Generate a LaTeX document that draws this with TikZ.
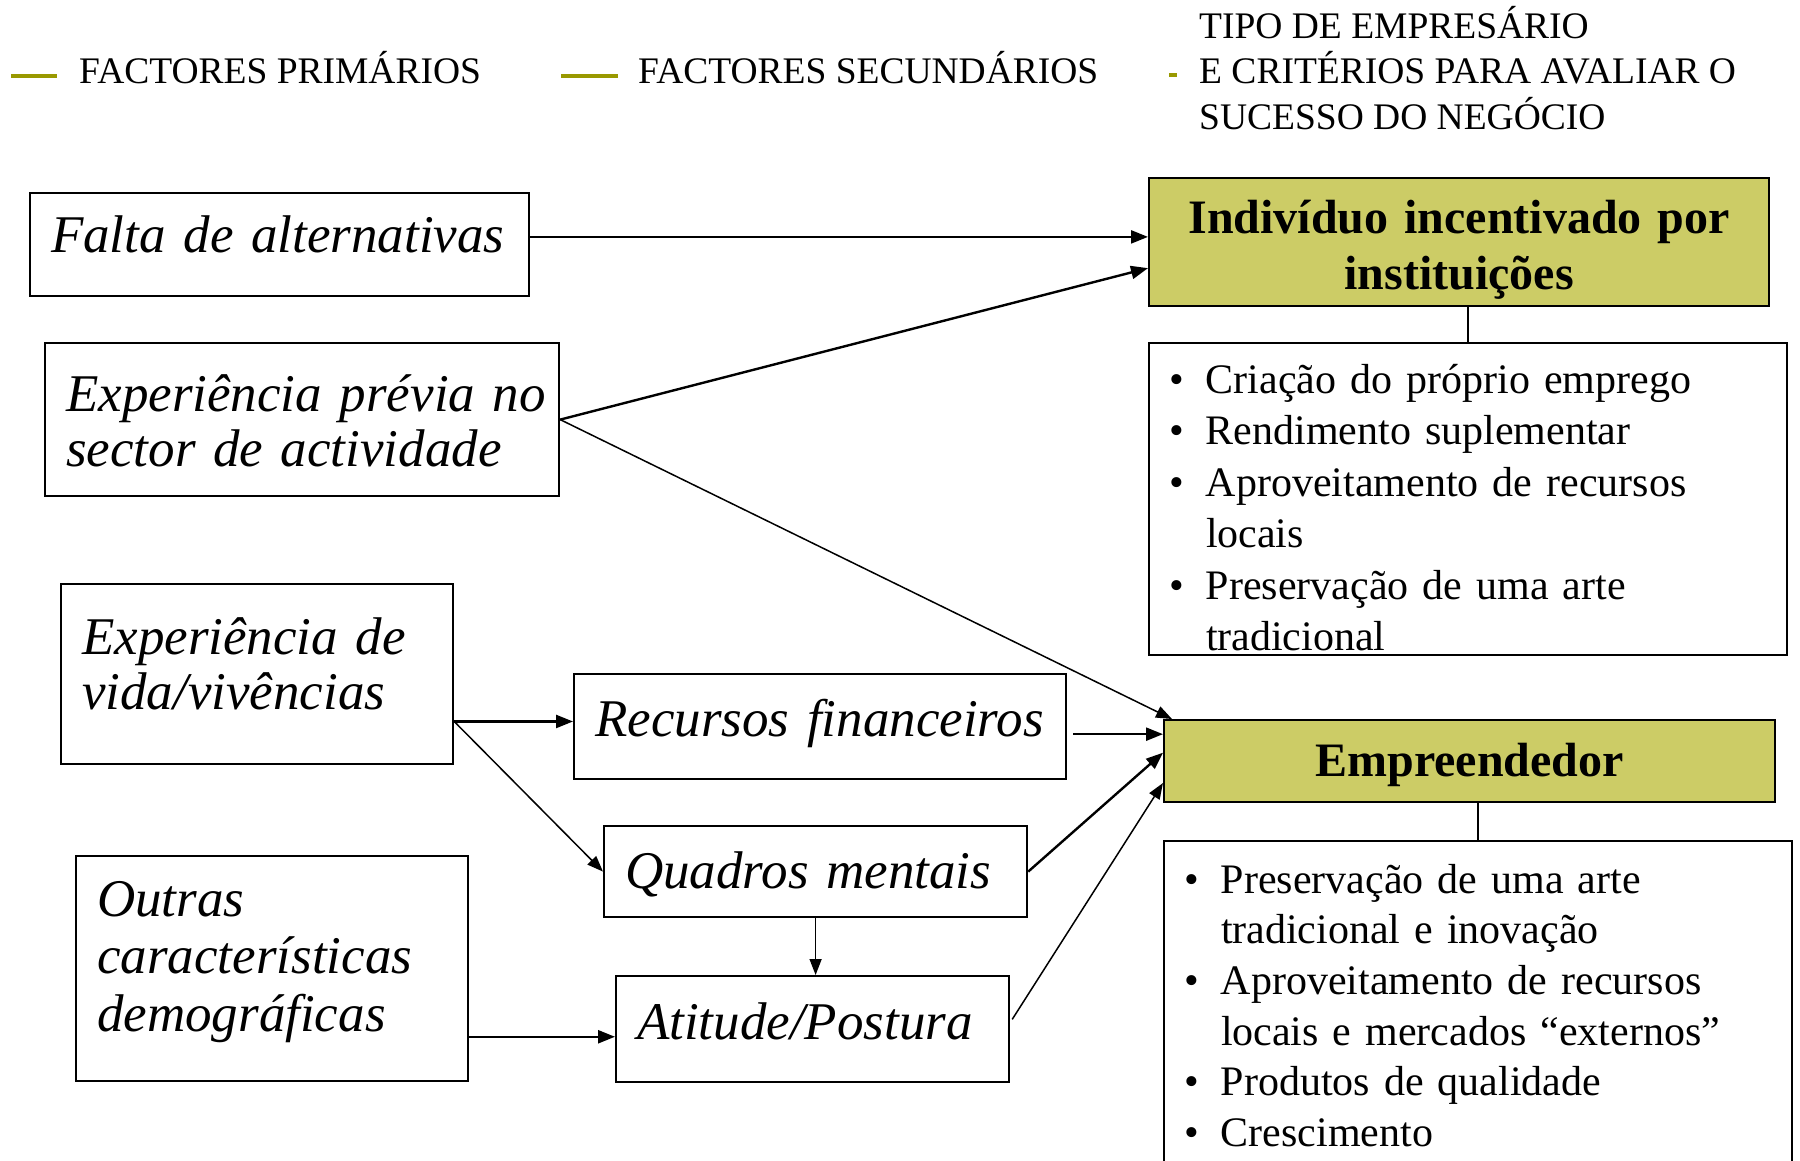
\documentclass[tikz,border=0pt]{standalone}
\usepackage{fontspec}
\setmainfont{Liberation Serif}
\usetikzlibrary{arrows.meta,calc}
\definecolor{olivefill}{RGB}{204,204,102}
\definecolor{legendline}{RGB}{153,153,0}
\newcommand{\lbul}{\makebox[37pt][l]{\textbullet}}
\newcommand{\lind}{\hspace*{37pt}}
\begin{document}
\begin{tikzpicture}[x=1pt,y=-1pt,
  ibox/.style={draw,line width=2.2pt,rectangle,anchor=north west,inner xsep=21pt,inner ysep=0pt,align=left,font=\fontsize{53}{55.5}\selectfont\itshape},
  hbox/.style={draw,line width=2.2pt,fill=olivefill,rectangle,anchor=north west,inner sep=0pt,align=center,font=\fontsize{48}{56}\selectfont\bfseries},
  lbox/.style={draw,line width=2pt,rectangle,anchor=north west,inner xsep=20pt,inner ysep=0pt,align=left},
  legtext/.style={inner sep=0pt,align=left,font=\fontsize{37.5}{45.5}\selectfont},
  legline/.style={draw=legendline,line width=4pt},
  thickarr/.style={line width=2.4pt,-{Triangle[length=17pt,width=13pt]}},
  thinarr/.style={line width=1.5pt,-{Triangle[length=16pt,width=12pt]}},
  plain/.style={line width=1.5pt}
]
\useasboundingbox (0,0) rectangle (1800,1160);
\clip (0,0) rectangle (1800,1160);

% legend
\draw[legline] (11,76) -- (57,76);
\node[legtext,anchor=base west] (leg1) at (79,83) {FACTORES PRIMÁRIOS};
\draw[legline] (561,76) -- (618,76);
\node[legtext,anchor=base west] (leg2) at (638,83) {FACTORES SECUNDÁRIOS};
\draw[legline] (1169,75) -- (1177,75);
\node[legtext,anchor=west] (leg3) at (1199,68) {TIPO DE EMPRESÁRIO\\E CRITÉRIOS PARA AVALIAR O\\SUCESSO DO NEGÓCIO};

% left boxes
\node[ibox,text width=457pt,text height=59pt,text depth=44pt] (falta) at (29,192) {\mbox{Falta de alternativas}};
\node[ibox,text width=472pt,text height=68pt,text depth=85pt] (exprev) at (44,342) {\mbox{Experiência prévia no}\\\mbox{sector de actividade}};
\node[ibox,text width=350pt,text height=70pt,text depth=110pt] (expvida) at (60,583) {\mbox{Experiência de}\\\mbox{vida/vivências}};
\node[ibox,text width=350pt,text height=60pt,text depth=165pt,font=\fontsize{53}{57.5}\selectfont\itshape] (outras) at (75,855) {Outras\\\mbox{características}\\\mbox{demográficas}};

% middle boxes
\node[ibox,text width=450pt,text height=62pt,text depth=43pt] (recursos) at (573,673) {\mbox{Recursos financeiros}};
\node[ibox,text width=381pt,text height=62pt,text depth=29pt] (quadros) at (603,825) {\mbox{Quadros mentais}};
\node[ibox,text width=351pt,text height=63pt,text depth=43pt] (atitude) at (615,975) {\mbox{Atitude/Postura}};

% right boxes
\node[hbox,text width=620pt,text height=55pt,text depth=73pt] (indiv) at (1148,177) {Indivíduo incentivado por\\instituições};
\node[lbox,text width=598pt,text height=50pt,text depth=262pt,font=\fontsize{42}{51.5}\selectfont] (list1) at (1148,342) {\lbul Criação do próprio emprego\\\lbul Rendimento suplementar\\\lbul Aproveitamento de recursos\\\lind locais\\\lbul Preservação de uma arte\\\lind tradicional};
\node[hbox,text width=611pt,text height=56pt,text depth=26pt] (emp) at (1163,719) {Empreendedor};
\node[lbox,text width=588pt,text height=52pt,text depth=330pt,font=\fontsize{42}{50.7}\selectfont] (list2) at (1163,840) {\lbul Preservação de uma arte\\\lind tradicional e inovação\\\lbul Aproveitamento de recursos\\\lind locais e mercados “externos”\\\lbul Produtos de qualidade\\\lbul Crescimento};

% connectors
\coordinate (a1) at ($(indiv.north west)!0.46!(indiv.south west)$);
\draw[thickarr] (a1 -| falta.east) -- (a1);
\coordinate (a2) at ($(indiv.north west)!0.70!(indiv.south west)$);
\draw[thickarr] (exprev.east) -- (a2);
\draw[thinarr] (exprev.east) -- ([xshift=9pt]emp.north west);
\coordinate (v1) at ($(expvida.north east)!0.76!(expvida.south east)$);
\draw[thickarr] (v1) -- (v1 -| recursos.west);
\draw[thinarr] (v1) -- (quadros.west);
\coordinate (e1) at ($(emp.north west)!0.18!(emp.south west)$);
\coordinate (r1) at (e1 -| recursos.east);
\draw[thickarr] ([xshift=6pt]r1) -- (e1);
\coordinate (e2) at ($(emp.north west)!0.40!(emp.south west)$);
\draw[thickarr] (quadros.east) -- (e2);
\coordinate (e3) at ($(emp.north west)!0.76!(emp.south west)$);
\coordinate (t1) at ($(atitude.north east)!0.41!(atitude.south east)$);
\draw[thinarr] ([xshift=2pt]t1) -- (e3);
\draw[thinarr] (quadros.south) -- (quadros.south |- atitude.north);
\coordinate (o1) at ($(outras.north east)!0.80!(outras.south east)$);
\draw[thickarr] (o1) -- (o1 -| atitude.west);
\draw[plain] (list1.north |- indiv.south) -- (list1.north);
\draw[plain] (list2.north |- emp.south) -- (list2.north);
\end{tikzpicture}
\end{document}
